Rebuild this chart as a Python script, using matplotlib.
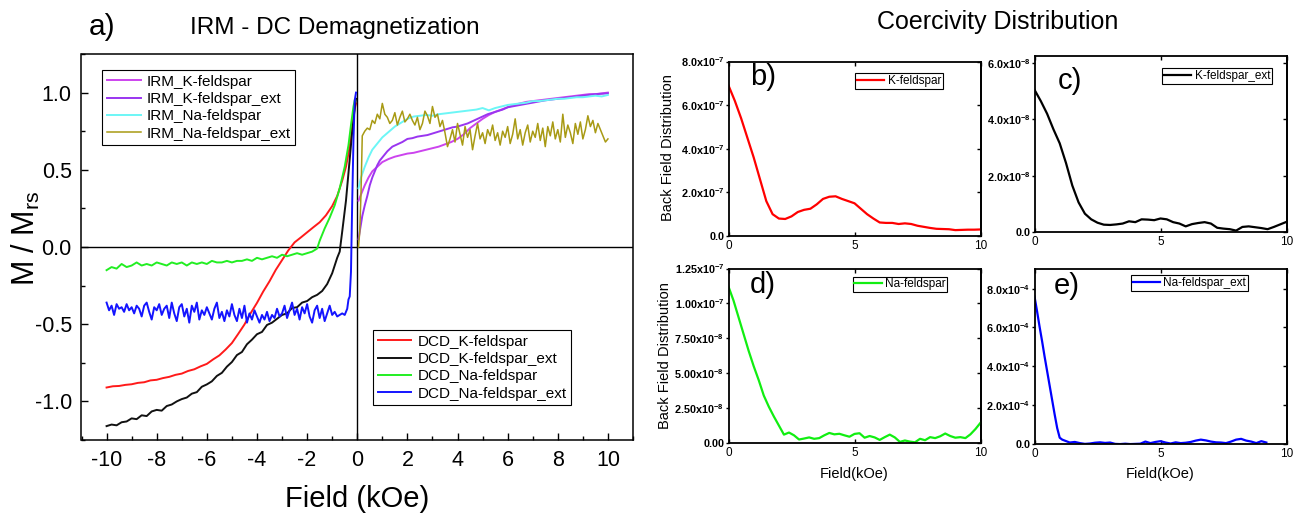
import numpy as np
import matplotlib
matplotlib.use("Agg")
import matplotlib.pyplot as plt

plt.rcParams['font.family'] = ['Liberation Sans', 'DejaVu Sans']
plt.rcParams['axes.unicode_minus'] = False
plt.rcParams['mathtext.fontset'] = 'custom'
plt.rcParams['mathtext.rm'] = 'Liberation Sans'
plt.rcParams['mathtext.it'] = 'Liberation Sans:italic'
plt.rcParams['mathtext.bf'] = 'Liberation Sans:bold'

# ---------------- IRM / DCD remanence curves (M / Mrs vs field, kOe) ----------------
dcd_k_field = np.concatenate([np.linspace(-10, -1, 37), [-0.8, -0.6, -0.45, -0.3, -0.2, -0.12, -0.05]])
dcd_k = [-0.910, -0.902, -0.900, -0.893, -0.889, -0.880, -0.876, -0.864, -0.860, -0.849,
         -0.841, -0.828, -0.820, -0.803, -0.792, -0.773, -0.757, -0.728, -0.702, -0.664,
         -0.622, -0.563, -0.502, -0.428, -0.362, -0.288, -0.222, -0.148, -0.085, -0.022,
         0.030, 0.062, 0.095, 0.128, 0.160, 0.205, 0.265,
         0.33, 0.43, 0.52, 0.65, 0.78, 0.88, 0.93]

dcd_k_ext_field = np.concatenate([np.linspace(-10, -1, 46), [-0.9, -0.8, -0.7, -0.6, -0.45, -0.3, -0.2, -0.1, -0.05]])
dcd_k_ext = [-1.160, -1.150, -1.155, -1.135, -1.130, -1.110, -1.115, -1.090, -1.095, -1.065,
             -1.055, -1.060, -1.030, -1.020, -1.000, -0.985, -0.975, -0.950, -0.940, -0.905,
             -0.890, -0.870, -0.835, -0.815, -0.775, -0.745, -0.700, -0.680, -0.630, -0.600,
             -0.565, -0.550, -0.505, -0.490, -0.465, -0.440, -0.430, -0.395, -0.390, -0.360,
             -0.350, -0.325, -0.310, -0.285, -0.240, -0.170,
             -0.12, -0.07, -0.03, 0.10, 0.30, 0.57, 0.75, 0.90, 0.96]

dcd_na_field = np.concatenate([np.linspace(-10, -1.6, 43), [-1.5, -1.3, -1.1, -0.9, -0.7, -0.5, -0.35, -0.25, -0.15, -0.1]])
dcd_na = [-0.15, -0.13, -0.14, -0.11, -0.13, -0.12, -0.10, -0.12, -0.11, -0.12,
          -0.10, -0.11, -0.12, -0.10, -0.11, -0.10, -0.12, -0.10, -0.11, -0.10,
          -0.11, -0.09, -0.10, -0.10, -0.09, -0.10, -0.09, -0.09, -0.08, -0.09,
          -0.07, -0.08, -0.07, -0.06, -0.07, -0.05, -0.06, -0.05, -0.04, -0.05,
          -0.04, -0.03, -0.01,
          0.04, 0.12, 0.19, 0.27, 0.38, 0.52, 0.66, 0.79, 0.91, 0.95]

dcd_na_ext_field = np.concatenate([np.linspace(-10, -0.5, 96), [-0.4, -0.35, -0.3, -0.25, -0.2, -0.15, -0.1, -0.05]])
dcd_na_ext = [-0.36, -0.41, -0.38, -0.44, -0.37, -0.40, -0.39, -0.42, -0.37, -0.41,
              -0.39, -0.43, -0.38, -0.40, -0.45, -0.38, -0.36, -0.42, -0.47, -0.39,
              -0.41, -0.37, -0.44, -0.40, -0.38, -0.46, -0.36, -0.43, -0.48, -0.39,
              -0.37, -0.45, -0.40, -0.49, -0.38, -0.42, -0.36, -0.47, -0.41, -0.44,
              -0.39, -0.43, -0.47, -0.40, -0.36, -0.46, -0.42, -0.48, -0.41, -0.45,
              -0.37, -0.44, -0.48, -0.40, -0.46, -0.38, -0.49, -0.43, -0.47, -0.41,
              -0.45, -0.49, -0.44, -0.47, -0.42, -0.48, -0.44, -0.46, -0.40, -0.45,
              -0.43, -0.38, -0.46, -0.41, -0.36, -0.44, -0.40, -0.47, -0.39, -0.43,
              -0.37, -0.45, -0.49, -0.41, -0.38, -0.46, -0.40, -0.48, -0.43, -0.38,
              -0.44, -0.42, -0.45, -0.44, -0.43, -0.44,
              -0.40, -0.34, -0.32, -0.16, 0.30, 0.70, 0.95, 1.00]

irm_k_field = np.concatenate([[0.05, 0.15, 0.3, 0.45, 0.6, 0.8], np.linspace(1, 10, 37)])
irm_k = [0.30, 0.34, 0.40, 0.45, 0.49, 0.52,
         0.55, 0.57, 0.585, 0.595, 0.605, 0.61, 0.62, 0.63, 0.64, 0.65,
         0.665, 0.68, 0.70, 0.73, 0.77, 0.80, 0.83, 0.855, 0.875, 0.89,
         0.905, 0.92, 0.93, 0.94, 0.945, 0.95, 0.955, 0.96, 0.965, 0.97,
         0.975, 0.98, 0.985, 0.99, 0.99, 0.995, 1.0]

irm_k_ext_field = np.concatenate([[0.05, 0.1, 0.2, 0.3, 0.4, 0.5, 0.6, 0.7, 0.8, 0.9],
                                  np.linspace(1.0, 6.0, 26),
                                  [6.5, 7.0, 7.5, 8.0, 8.5, 9.0, 9.5, 10.0]])
irm_k_ext = [0.05, 0.10, 0.20, 0.27, 0.33, 0.40, 0.45, 0.49, 0.53, 0.56,
             0.58, 0.62, 0.65, 0.665, 0.68, 0.70, 0.705, 0.715, 0.72, 0.725,
             0.735, 0.745, 0.755, 0.765, 0.775, 0.78, 0.79, 0.80, 0.815, 0.83,
             0.845, 0.86, 0.87, 0.88, 0.89, 0.905,
             0.92, 0.935, 0.95, 0.96, 0.97, 0.98, 0.99, 0.995]

irm_na_field = np.concatenate([[0.05, 0.15, 0.3, 0.45, 0.6, 0.8], np.linspace(1, 10, 37)])
irm_na = [0.38, 0.45, 0.52, 0.58, 0.63, 0.67,
          0.71, 0.745, 0.78, 0.805, 0.83, 0.845, 0.85, 0.855, 0.85, 0.86,
          0.865, 0.87, 0.875, 0.88, 0.885, 0.89, 0.90, 0.885, 0.90, 0.91,
          0.92, 0.925, 0.93, 0.935, 0.945, 0.945, 0.95, 0.955, 0.96, 0.96,
          0.965, 0.97, 0.97, 0.975, 0.98, 0.975, 0.985]

irm_na_ext_field = np.concatenate([[0.05, 0.1, 0.15, 0.2], np.linspace(0.3, 10.0, 98)])
irm_na_ext = [0.00, 0.10, 0.35, 0.72,
              0.75, 0.77, 0.76, 0.82, 0.80, 0.86, 0.83, 0.93, 0.86, 0.84,
              0.80, 0.82, 0.87, 0.79, 0.84, 0.88, 0.81, 0.83, 0.86, 0.82,
              0.79, 0.84, 0.76, 0.80, 0.88, 0.85, 0.80, 0.91, 0.84, 0.86,
              0.78, 0.82, 0.74, 0.65, 0.70, 0.76, 0.68, 0.80, 0.73, 0.66,
              0.78, 0.71, 0.76, 0.63, 0.72, 0.80, 0.70, 0.74, 0.67, 0.76,
              0.72, 0.79, 0.69, 0.74, 0.66, 0.75, 0.71, 0.78, 0.67, 0.73,
              0.83, 0.70, 0.76, 0.66, 0.74, 0.79, 0.68, 0.75, 0.71, 0.80,
              0.69, 0.77, 0.65, 0.78, 0.72, 0.81, 0.70, 0.76, 0.68, 0.86,
              0.71, 0.79, 0.74, 0.67, 0.80, 0.73, 0.81, 0.70, 0.76, 0.85,
              0.78, 0.82, 0.74, 0.80, 0.76, 0.72, 0.68, 0.70]

irm_series = [
    (irm_k_field, irm_k, "IRM_K-feldspar", "#CC44EE", 1.4),
    (irm_k_ext_field, irm_k_ext, "IRM_K-feldspar_ext", "#9A35F0", 1.4),
    (irm_na_field, irm_na, "IRM_Na-feldspar", "#6CF6F6", 1.4),
    (irm_na_ext_field, irm_na_ext, "IRM_Na-feldspar_ext", "#A89A14", 1.1),
]
dcd_series = [
    (dcd_k_field, dcd_k, "DCD_K-feldspar", "#FF1A1A", 1.4),
    (dcd_k_ext_field, dcd_k_ext, "DCD_K-feldspar_ext", "#111111", 1.4),
    (dcd_na_field, dcd_na, "DCD_Na-feldspar", "#22EE22", 1.4),
    (dcd_na_ext_field, dcd_na_ext, "DCD_Na-feldspar_ext", "#1414FF", 1.4),
]
main_xticks = [-10, -8, -6, -4, -2, 0, 2, 4, 6, 8, 10]
main_yticks = [-1.0, -0.5, 0.0, 0.5, 1.0]

# ---------------- Back-field coercivity distributions ----------------
b_field = np.linspace(0, 10, 41)
b_vals = [6.9, 6.2, 5.4, 4.5, 3.6, 2.6, 1.6, 1.0, 0.80, 0.78,
          0.90, 1.10, 1.20, 1.25, 1.45, 1.70, 1.80, 1.82, 1.70, 1.60,
          1.50, 1.25, 1.00, 0.80, 0.62, 0.60, 0.60, 0.55, 0.58, 0.55,
          0.47, 0.42, 0.37, 0.33, 0.32, 0.31, 0.27, 0.28, 0.29, 0.29, 0.30]  # x1e-7

c_field = np.linspace(0, 10, 41)
c_vals = [5.05, 4.65, 4.20, 3.65, 3.15, 2.45, 1.65, 1.05, 0.65, 0.45,
          0.33, 0.26, 0.25, 0.27, 0.30, 0.38, 0.35, 0.45, 0.44, 0.42,
          0.48, 0.45, 0.35, 0.30, 0.20, 0.28, 0.32, 0.35, 0.30, 0.15,
          0.12, 0.10, 0.05, 0.18, 0.20, 0.17, 0.14, 0.10, 0.18, 0.27, 0.36]  # x1e-8

d_field = np.linspace(0, 10, 51)
d_vals = [11.2, 10.2, 9.0, 7.8, 6.6, 5.5, 4.5, 3.4, 2.6, 1.9, 1.25,
          0.60, 0.75, 0.55, 0.25, 0.32, 0.40, 0.30, 0.35, 0.55, 0.72,
          0.62, 0.66, 0.55, 0.45, 0.65, 0.70, 0.38, 0.50, 0.40, 0.22,
          0.42, 0.60, 0.40, 0.08, 0.18, 0.10, 0.05, 0.30, 0.20, 0.42,
          0.35, 0.48, 0.68, 0.50, 0.38, 0.42, 0.35, 0.62, 1.00, 1.45]  # x1e-8

e_field = np.concatenate([[0.0, 0.1, 0.2, 0.3, 0.4, 0.5, 0.6, 0.7, 0.8, 0.9, 1.0, 1.1],
                          np.linspace(1.2, 9.2, 41)])
e_vals = [7.6, 6.85, 6.05, 5.3, 4.5, 3.75, 3.0, 2.25, 1.5, 0.8, 0.3, 0.2,
          0.15, 0.05, 0.08, 0.02, -0.02, 0.0, 0.04, 0.06, 0.03, 0.05,
          -0.02, -0.03, -0.01, -0.03, -0.02, -0.01, 0.10, 0.02, 0.08, 0.12,
          0.05, 0.0, 0.06, 0.02, 0.04, 0.08, 0.15, 0.20, 0.16, 0.10,
          0.06, 0.05, 0.02, 0.10, 0.20, 0.24, 0.15, 0.10, 0.02, 0.12, 0.05]  # x1e-4

b_ticks = [0, 2e-7, 4e-7, 6e-7, 8e-7]
b_ticklabels = ["0.0", "2.0x10$^{\\mathbf{-7}}$", "4.0x10$^{\\mathbf{-7}}$", "6.0x10$^{\\mathbf{-7}}$", "8.0x10$^{\\mathbf{-7}}$"]
c_ticks = [0, 2e-8, 4e-8, 6e-8]
c_ticklabels = ["0.0", "2.0x10$^{\\mathbf{-8}}$", "4.0x10$^{\\mathbf{-8}}$", "6.0x10$^{\\mathbf{-8}}$"]
d_ticks = [0, 2.5e-8, 5e-8, 7.5e-8, 1e-7, 1.25e-7]
d_ticklabels = ["0.00", "2.50x10$^{\\mathbf{-8}}$", "5.00x10$^{\\mathbf{-8}}$", "7.50x10$^{\\mathbf{-8}}$",
                "1.00x10$^{\\mathbf{-7}}$", "1.25x10$^{\\mathbf{-7}}$"]
e_ticks = [0, 2e-4, 4e-4, 6e-4, 8e-4]
e_ticklabels = ["0.0", "2.0x10$^{\\mathbf{-4}}$", "4.0x10$^{\\mathbf{-4}}$", "6.0x10$^{\\mathbf{-4}}$", "8.0x10$^{\\mathbf{-4}}$"]

W, H = 1300, 516
fig = plt.figure(figsize=(W / 100, H / 100), dpi=100)


def add_axes_px(left, right, top, bottom):
    return fig.add_axes([left / W, 1 - bottom / H, (right - left) / W, (bottom - top) / H])


# ---------------- panel a ----------------
ax = add_axes_px(81.5, 633, 54, 440)
ax.axhline(0, color="black", lw=1.0, zorder=1)
ax.axvline(0, color="black", lw=1.0, zorder=1)
irm_handles = [ax.plot(x, y, color=c, lw=w, label=lab)[0] for x, y, lab, c, w in irm_series]
dcd_handles = [ax.plot(x, y, color=c, lw=w, label=lab)[0] for x, y, lab, c, w in dcd_series]
ax.set_xlim(-11, 11)
ax.set_ylim(-1.25, 1.25)
ax.set_xticks(main_xticks, labels=[str(v) for v in main_xticks])
ax.set_xticks(np.arange(-11, 12, 1), minor=True)
ax.set_yticks(main_yticks, labels=[f"{v:.1f}" for v in main_yticks])
ax.set_yticks(np.arange(-1.25, 1.26, 0.25), minor=True)
ax.tick_params(which="both", direction="in", width=1.0, labelsize=15.5, pad=7)
ax.tick_params(which="major", length=5)
ax.tick_params(which="minor", length=3)
for sp in ax.spines.values():
    sp.set_linewidth(1.1)

leg_kw = dict(fontsize=11, frameon=True, fancybox=False, edgecolor="black", framealpha=1,
              borderpad=0.3, labelspacing=0.22, handlelength=2.2, handletextpad=0.4,
              borderaxespad=0)
leg1 = ax.legend(handles=irm_handles, loc="upper left", bbox_to_anchor=(0.038, 0.9585), **leg_kw)
leg1.get_frame().set_linewidth(0.8)
ax.add_artist(leg1)
leg2 = ax.legend(handles=dcd_handles, loc="upper left", bbox_to_anchor=(0.5286, 0.285), **leg_kw)
leg2.get_frame().set_linewidth(0.8)

fig.text(102 / W, 1 - 27 / H, "a)", fontsize=21.5, ha="center", va="center")
fig.text(335 / W, 1 - 28 / H, "IRM - DC Demagnetization", fontsize=17.5, ha="center", va="center")
fig.text(357 / W, 1 - 499 / H, "Field (kOe)", fontsize=21, ha="center", va="center")
fig.text(26 / W, 1 - 238 / H, "M / M$_{\\rm rs}$", fontsize=22, ha="center", va="center", rotation=90)
fig.text(998 / W, 1 - 22 / H, "Coercivity Distribution", fontsize=18, ha="center", va="center")


# ---------------- panels b-e ----------------
def coercivity_panel(box, x, vals, scale, color, label, ticks, ticklabels, ylim,
                     letter, letter_xy, leg_anchor):
    a = add_axes_px(*box)
    a.plot(x, np.asarray(vals) * scale, color=color, lw=1.6, label=label)
    a.set_xlim(0, 10)
    a.set_ylim(*ylim)
    a.set_xticks([0, 5, 10], labels=["0", "5", "10"])
    a.set_yticks(ticks, labels=ticklabels)
    for t in a.get_yticklabels():
        t.set_fontweight("bold")
    a.tick_params(axis="x", which="both", direction="in", top=True, length=3, width=1,
                  labelsize=8.5, pad=3)
    a.tick_params(axis="y", which="both", direction="out", length=2.5, width=1,
                  labelsize=7.8, pad=0.5)
    right = a.secondary_yaxis("right")
    right.set_yticks(ticks)
    right.tick_params(direction="in", length=3, width=1, labelright=False)
    right.spines["right"].set_linewidth(1.3)
    for sp in a.spines.values():
        sp.set_linewidth(1.3)
    lg = a.legend(loc="upper right", bbox_to_anchor=leg_anchor, fontsize=8.5, frameon=True,
                  fancybox=False, edgecolor="black", framealpha=1, borderpad=0.15,
                  handlelength=2.3, handletextpad=0.3, borderaxespad=0)
    lg.get_frame().set_linewidth(0.8)
    a.text(letter_xy[0], letter_xy[1], letter, transform=a.transAxes, fontsize=21,
           ha="left", va="center")
    return a


ax_b = coercivity_panel((728.5, 980.5, 61.5, 236), b_field, b_vals, 1e-7, "#FF0000", "K-feldspar",
                        b_ticks, b_ticklabels, (0, 8e-7), "b)", (0.085, 0.91), (0.851, 0.934))
ax_c = coercivity_panel((1034.5, 1286.5, 56, 232), c_field, c_vals, 1e-8, "#000000", "K-feldspar_ext",
                        c_ticks, c_ticklabels, (0, 6.25e-8), "c)", (0.093, 0.86), (0.942, 0.932))
ax_d = coercivity_panel((728.5, 980.5, 268.5, 443), d_field, d_vals, 1e-8, "#11EE11", "Na-feldspar",
                        d_ticks, d_ticklabels, (0, 1.25e-7), "d)", (0.085, 0.905), (0.869, 0.953))
ax_e = coercivity_panel((1034.5, 1286.5, 268.5, 443.5), e_field, e_vals, 1e-4, "#0000FF", "Na-feldspar_ext",
                        e_ticks, e_ticklabels, (0, 9.05e-4), "e)", (0.078, 0.90), (0.847, 0.963))

fig.text(668 / W, 1 - 148 / H, "Back Field Distribution", fontsize=10.5, rotation=90,
         ha="center", va="center")
fig.text(665 / W, 1 - 356 / H, "Back Field Distribution", fontsize=10.5, rotation=90,
         ha="center", va="center")
fig.text(854.5 / W, 1 - 474 / H, "Field(kOe)", fontsize=10.5, ha="center", va="center")
fig.text(1160.5 / W, 1 - 474 / H, "Field(kOe)", fontsize=10.5, ha="center", va="center")

fig.savefig("out.png", dpi=100)
